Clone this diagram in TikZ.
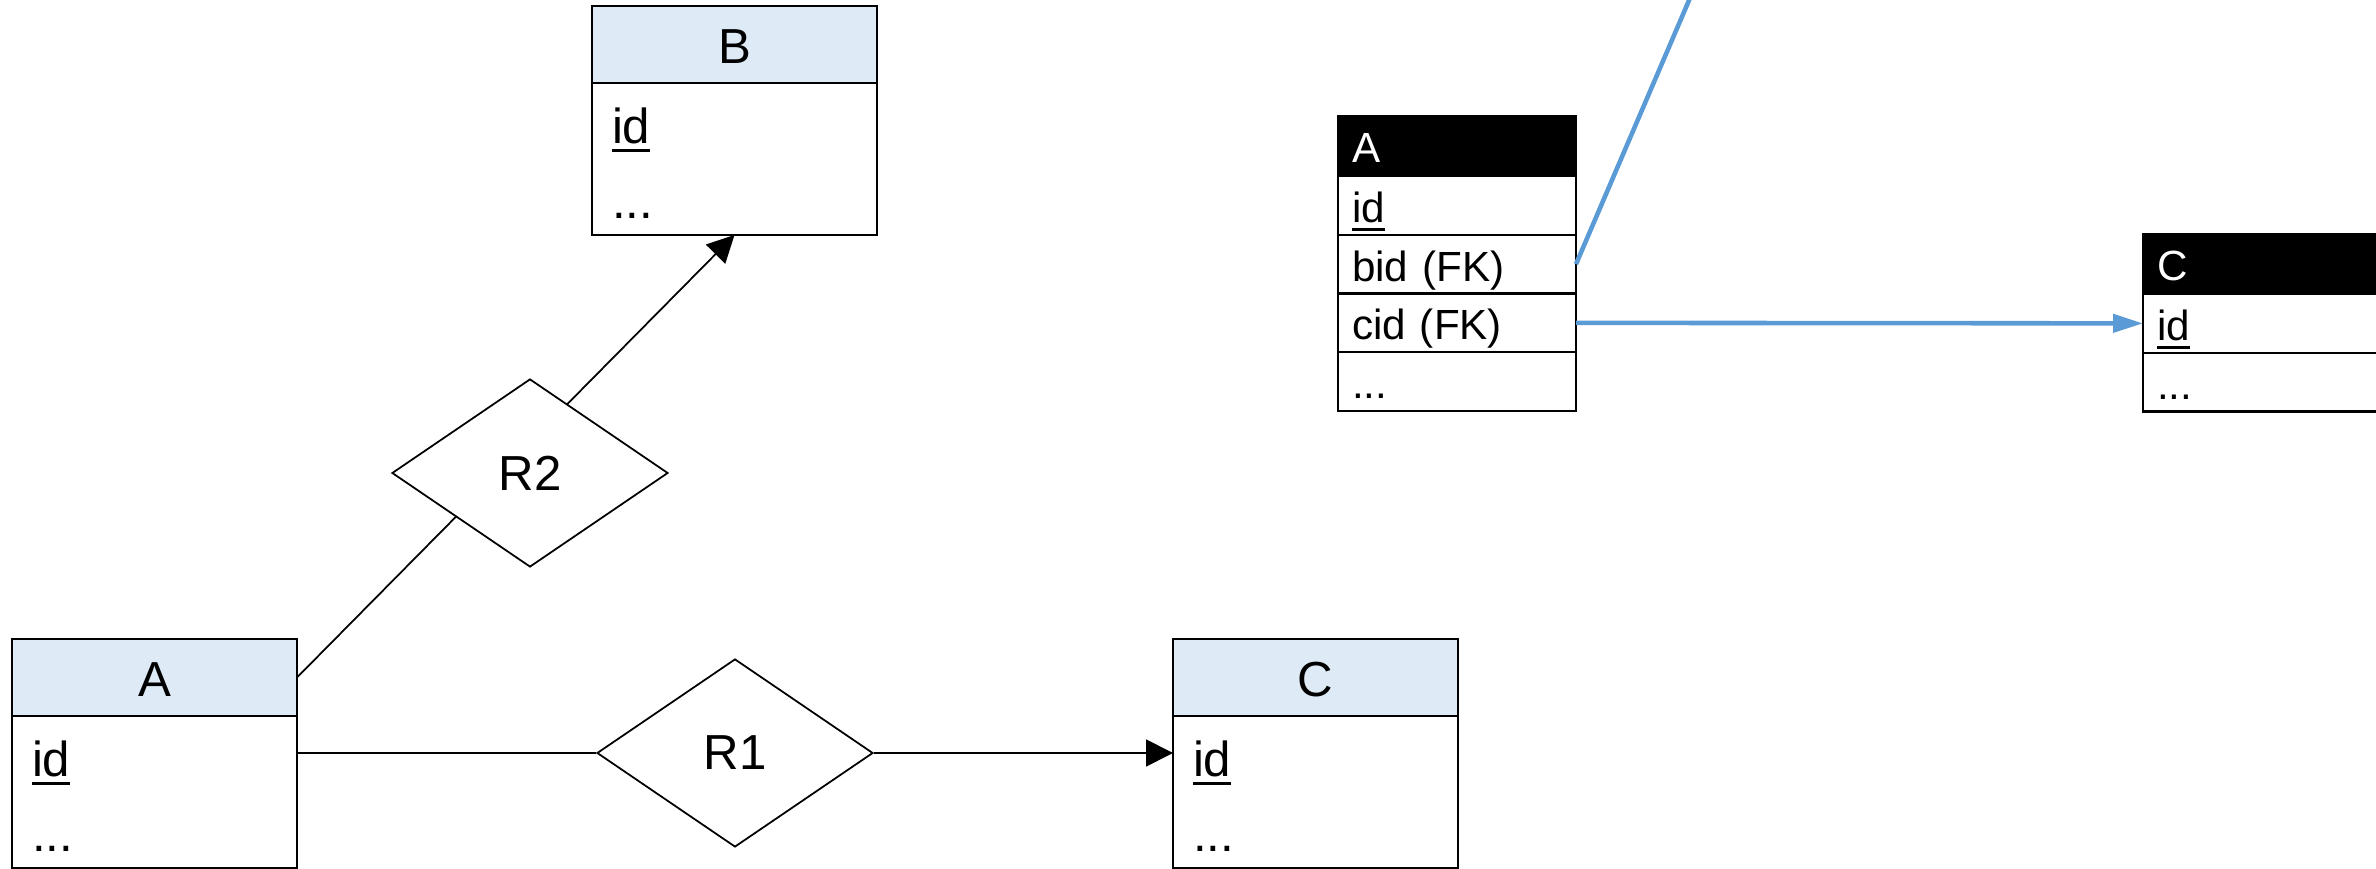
\documentclass[tikz,border=0pt]{standalone}
\usepackage{fontspec}
\setmainfont{Liberation Sans}
\usetikzlibrary{positioning}
\usetikzlibrary{shapes.geometric}
\usetikzlibrary{arrows.meta}

\definecolor{headblue}{HTML}{DEEBF7}
\definecolor{fkblue}{HTML}{5B9BD5}

% underlined key attribute
\newcommand{\pk}[1]{\setbox0\hbox{#1}\rlap{\rule[-0.85mm]{\wd0}{0.3mm}}\box0}

\tikzset{
  erhead/.style={draw, line width=0.6pt, fill=headblue, outer sep=0pt,
    minimum width=28.5mm, minimum height=7.7mm, inner sep=0pt,
    text height=3.9mm, text depth=0pt,
    font=\fontsize{14}{17}\selectfont},
  erbody/.style={draw, line width=0.6pt, outer sep=0pt,
    minimum width=28.5mm, minimum height=15.2mm, text width=24.5mm,
    inner xsep=2mm, inner ysep=0pt, align=left,
    execute at begin node=\rule{0pt}{4.4mm},
    font=\fontsize{14}{21.6}\selectfont},
  rel/.style={diamond, draw, line width=0.5pt, fill=white,
    minimum width=27.6mm, minimum height=18.8mm, inner sep=0pt,
    font=\fontsize{14}{17}\selectfont},
  tblhead/.style={draw, line width=0.6pt, fill=black, text=white, outer sep=0pt,
    minimum height=6mm, text width=21mm, inner xsep=1.4mm, inner ysep=0pt,
    text height=3.8mm, text depth=0.4mm, align=left,
    font=\fontsize{12}{14}\selectfont},
  tblrow/.style={tblhead, fill=white, text=black, minimum height=5.875mm},
  conn/.style={line width=0.5pt},
  fk/.style={draw=fkblue, line width=1.3pt},
}

\begin{document}
\begin{tikzpicture}[x=0.1mm, y=-0.1mm]
  \clip (0,0) rectangle (2376,869);

  % ER diagram
  \node[erhead, anchor=north west] (Bh) at (592,6) {B};
  \node[erbody, below=0pt of Bh] (Bb) {\pk{id}\\...};
  \node[erhead, anchor=north west] (Ah) at (12,639) {A};
  \node[erbody, below=0pt of Ah] (Ab) {\pk{id}\\...};
  \node[erhead, anchor=north west] (Ch) at (1173,639) {C};
  \node[erbody, below=0pt of Ch] (Cb) {\pk{id}\\...};

  \draw[conn, -{Triangle[length=2.7mm, width=2.7mm]}] (Ah.east) -- (Bb.south);
  \node[rel] (R2) at (530,473) {R2};
  \node[rel] (R1) at (735,753) {R1};
  \draw[conn] (Ab.east |- R1.west) -- (R1.west);
  \draw[conn, -{Triangle[length=2.7mm, width=2.7mm]}] (R1.east) -- (R1.east -| Cb.west);

  % relational schema
  \node[tblhead, anchor=north west] (tA) at (1338,116) {A};
  \node[tblrow, below=0pt of tA] (tAid) {\pk{id}};
  \node[tblrow, below=0pt of tAid] (tAbid) {bid (FK)};
  \node[tblrow, below=0pt of tAbid] (tAcid) {cid (FK)};
  \node[tblrow, below=0pt of tAcid] (tAmore) {...};

  \node[tblhead, anchor=north west] (tC) at (2143,234) {C};
  \node[tblrow, below=0pt of tC] (tCid) {\pk{id}};
  \node[tblrow, below=0pt of tCid] (tCmore) {...};

  \coordinate (toB) at (1702,-30);
  \draw[fk] (tAbid.east) -- (toB);
  \draw[fk, -{Triangle[length=3mm, width=1.8mm]}] (tAcid.east) -- (tCid.west);
\end{tikzpicture}
\end{document}
